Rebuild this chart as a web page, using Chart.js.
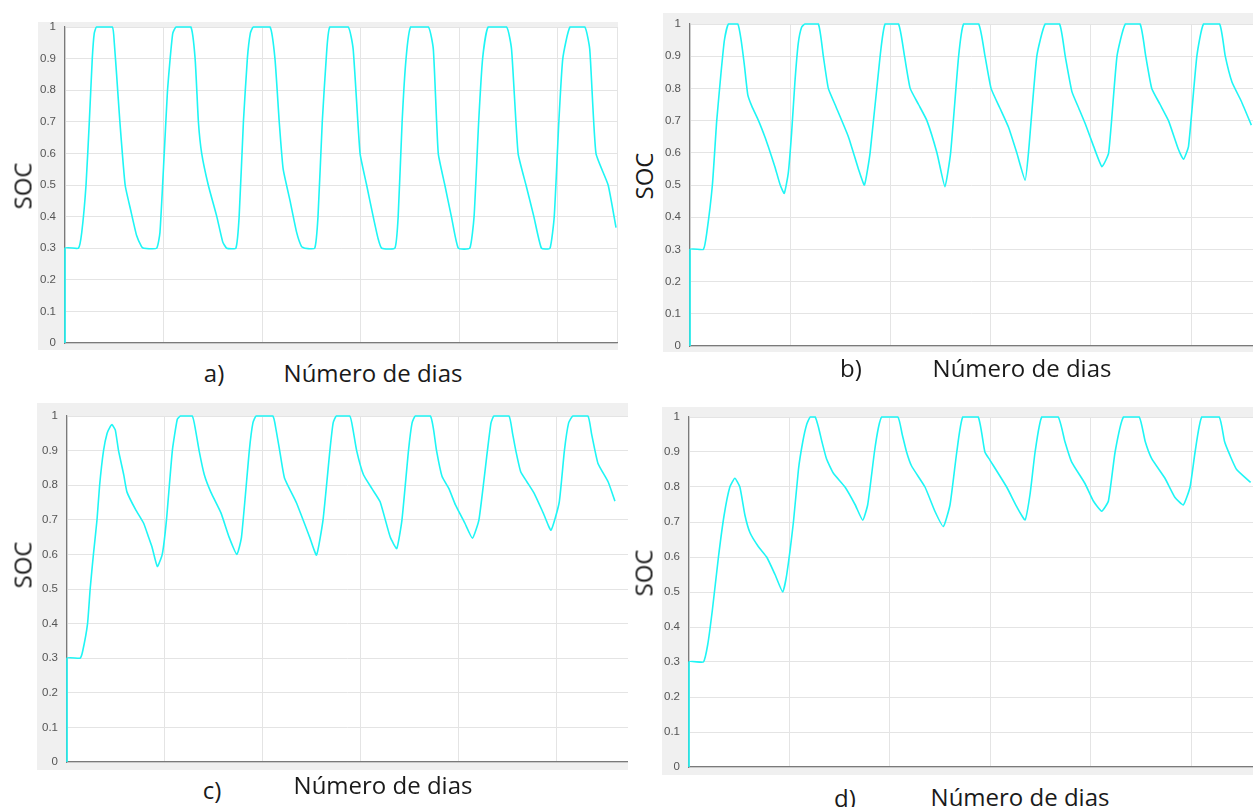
<!DOCTYPE html>
<html>
<head>
<meta charset="utf-8">
<script src="https://cdn.jsdelivr.net/npm/chart.js@4/dist/chart.umd.min.js"></script>
<style>
  body { margin: 0; width: 1253px; height: 807px; background: #fff; overflow: hidden; position: relative; }
  .panel { position: absolute; }
  .lbl { position: absolute; font-family: 'Open Sans', sans-serif; font-size: 24px; color: #1a1a1a; transform: translate(-50%, -50%); white-space: nowrap; }
  .soc { transform: translate(-50%, -50%) rotate(-90deg); font-size: 24px; }
</style>
</head>
<body>
<div class="panel" style="left:38px;top:22px;width:580px;height:328px"><canvas id="chartA"></canvas></div>
<div class="panel" style="left:663px;top:13px;width:590px;height:339px"><canvas id="chartB"></canvas></div>
<div class="panel" style="left:37px;top:403px;width:591px;height:367px"><canvas id="chartC"></canvas></div>
<div class="panel" style="left:662px;top:407px;width:591px;height:368px"><canvas id="chartD"></canvas></div>

<div class="lbl soc" style="left:22px;top:186px">SOC</div>
<div class="lbl" style="left:214px;top:372px">a)</div>
<div class="lbl" style="left:373px;top:372px">Número de dias</div>

<div class="lbl soc" style="left:643px;top:176px">SOC</div>
<div class="lbl" style="left:851px;top:367px">b)</div>
<div class="lbl" style="left:1022px;top:367px">Número de dias</div>

<div class="lbl soc" style="left:22px;top:565px">SOC</div>
<div class="lbl" style="left:212px;top:789px">c)</div>
<div class="lbl" style="left:383px;top:784px">Número de dias</div>

<div class="lbl soc" style="left:643px;top:573px">SOC</div>
<div class="lbl" style="left:845px;top:797px">d)</div>
<div class="lbl" style="left:1020px;top:796px">Número de dias</div>

<script>
// horas desde o início, SOC
const horasA = [0, 0, 4.1, 5.1, 6.4, 7.4, 8.3, 8.9, 9.6, 14.4, 15, 15.7, 16.7, 18.3, 20, 21.8, 23.3, 24,
  27.9, 28.9, 30.2, 31.2, 32, 32.8, 33.8, 38.3, 39.6, 40.6, 41.6, 43.6, 46.2, 48, 49.2,
  52, 53, 54.3, 55.5, 56.4, 57.3, 62.4, 63.9, 65.2, 66.4, 68.5, 70.5, 72, 73,
  76, 77, 78.3, 79.5, 80.6, 86.2, 87.7, 89.8, 91.8, 93.8, 95.3, 96.4,
  100.4, 101.4, 102.6, 103.8, 105.2, 110.6, 112.1, 113.6, 115.6, 117.6, 119.7,
  123.2, 124.5, 125.9, 127.1, 128.8, 134.4, 135.9, 137.9, 140.3, 142.7, 145,
  147.6, 148.9, 150.3, 151.5, 153.7, 158.2, 159.7, 161.6, 165.3, 167.7]
const socA = [0, 0.3, 0.3, 0.35, 0.5, 0.7, 0.9, 0.98, 1, 1, 0.95, 0.85, 0.7, 0.5, 0.42, 0.34, 0.305, 0.3,
  0.3, 0.35, 0.6, 0.8, 0.9, 0.98, 1, 1, 0.9, 0.7, 0.6, 0.5, 0.4, 0.32, 0.3,
  0.3, 0.4, 0.7, 0.9, 0.98, 1, 1, 0.9, 0.7, 0.55, 0.45, 0.35, 0.305, 0.3,
  0.3, 0.4, 0.7, 0.9, 1, 1, 0.93, 0.6, 0.5, 0.4, 0.33, 0.3,
  0.3, 0.4, 0.7, 0.9, 1, 1, 0.93, 0.6, 0.5, 0.4, 0.3,
  0.3, 0.4, 0.7, 0.9, 1, 1, 0.93, 0.6, 0.5, 0.4, 0.3,
  0.3, 0.4, 0.7, 0.9, 1, 1, 0.93, 0.6, 0.5, 0.365]

const horasB = [0, 0, 4, 5, 6.7, 8, 9.3, 10.3, 11.5, 14.3, 15.3, 16.3, 17.3, 18.5, 20.5, 22.4, 23.4, 25.4, 27, 28.2,
  29.4, 30.4, 31.4, 32.4, 33.4, 34.4, 38.4, 39.9, 41.4, 43.4, 47.4, 50.4, 52.2,
  53.9, 56.9, 58.4, 62.4, 64.2, 65.9, 68.4, 70.9, 73.9, 76.3,
  78, 80.4, 81.9, 86.4, 88.3, 90.1, 92.7, 95.3, 97.8, 100.3,
  101.3, 103.8, 106.3, 110.6, 112.3, 114.3, 116.3, 118.3, 120.8, 123.3,
  125.3, 127.8, 130.3, 134.7, 136.4, 138.2, 140.7, 143.2, 146.2, 147.7,
  149.2, 151.7, 153.7, 158.5, 160.2, 162.2, 165, 168]
const socB = [0, 0.3, 0.3, 0.35, 0.5, 0.7, 0.85, 0.95, 1, 1, 0.95, 0.87, 0.78, 0.745, 0.7, 0.65, 0.62, 0.557, 0.5, 0.474,
  0.536, 0.66, 0.82, 0.94, 0.99, 1, 1, 0.9, 0.8, 0.75, 0.65, 0.55, 0.5,
  0.6, 0.9, 1, 1, 0.9, 0.8, 0.75, 0.7, 0.6, 0.495,
  0.6, 0.9, 1, 1, 0.9, 0.8, 0.74, 0.68, 0.6, 0.515,
  0.6, 0.9, 1, 1, 0.9, 0.79, 0.74, 0.69, 0.62, 0.557,
  0.6, 0.9, 1, 1, 0.9, 0.8, 0.75, 0.7, 0.61, 0.58,
  0.62, 0.9, 1, 1, 0.9, 0.82, 0.76, 0.686]

const horasC = [0, 0, 4, 4.8, 6.3, 7.1, 8.1, 9.2, 10, 11.2, 12.3, 13.3, 13.8, 14.8, 15.8, 17.4, 18.4, 21, 23.5, 25, 26.1, 27.7,
  29.2, 30.5, 32.3, 33.8, 34.8, 38.4, 39.4, 40.5, 42.1, 44.1, 47.2, 49.7, 52.1,
  53.5, 55.9, 57, 58, 63.1, 64.1, 65.2, 66.7, 70.3, 74.4, 76.5,
  78.5, 80.6, 81.6, 82.6, 86.7, 87.7, 88.8, 90.9, 93.5, 96, 99.1, 101.1,
  102.7, 104.7, 105.8, 106.8, 111.4, 112.4, 113.3, 115, 117.1, 119.1, 122, 124.3,
  126.3, 128.9, 130, 130.9, 135.5, 136.6, 137.6, 139.1, 141, 143.2, 146, 148.4,
  150.9, 152.5, 153.8, 155.1, 159.7, 160.8, 162.8, 165.9, 168]
const socC = [0, 0.3, 0.3, 0.32, 0.4, 0.5, 0.6, 0.7, 0.8, 0.9, 0.95, 0.97, 0.975, 0.96, 0.9, 0.83, 0.78, 0.73, 0.69, 0.65, 0.62, 0.565,
  0.6, 0.7, 0.9, 0.99, 1, 1, 0.96, 0.9, 0.83, 0.78, 0.72, 0.65, 0.6,
  0.65, 0.9, 0.98, 1, 1, 0.96, 0.9, 0.82, 0.75, 0.65, 0.598,
  0.7, 0.9, 0.98, 1, 1, 0.96, 0.9, 0.83, 0.79, 0.752, 0.65, 0.617,
  0.7, 0.9, 0.98, 1, 1, 0.96, 0.9, 0.825, 0.79, 0.743, 0.69, 0.647,
  0.7, 0.9, 0.98, 1, 1, 0.95, 0.9, 0.839, 0.81, 0.777, 0.72, 0.67,
  0.75, 0.9, 0.98, 1, 1, 0.95, 0.863, 0.81, 0.754]

const horasD = [0, 0, 4.3, 5.6, 7, 8.8, 10.5, 12.2, 13.7, 15.2, 16.7, 18.2, 20.7, 23.2, 25.7, 28,
  29.2, 31.2, 32.7, 34, 35.2, 36.2, 37.7, 38.7, 39.7, 41.1, 43.1, 46.6, 49.6, 51.9,
  53.4, 55.4, 56.6, 57.6, 62.4, 63.7, 65, 66.5, 70.5, 73.5, 76,
  78, 80, 81.8, 86.4, 88.4, 89.9, 94.9, 97.9, 100.4,
  101.9, 103.4, 105.4, 110.3, 112.3, 114.3, 118.3, 120.8, 123.3,
  125.3, 127.3, 129.8, 134.5, 136.3, 138.2, 142.2, 145.2, 147.7,
  149.7, 151.2, 153.2, 158.4, 160, 161.6, 163.6, 167.8]
const socD = [0, 0.3, 0.3, 0.35, 0.45, 0.6, 0.72, 0.8, 0.825, 0.8, 0.72, 0.67, 0.63, 0.6, 0.55, 0.5,
  0.55, 0.7, 0.85, 0.93, 0.98, 1, 1, 0.97, 0.93, 0.88, 0.84, 0.8, 0.75, 0.705,
  0.75, 0.9, 0.97, 1, 1, 0.95, 0.9, 0.86, 0.8, 0.73, 0.687,
  0.75, 0.9, 1, 1, 0.9, 0.877, 0.8, 0.744, 0.706,
  0.78, 0.9, 1, 1, 0.93, 0.872, 0.81, 0.76, 0.731,
  0.76, 0.9, 1, 1, 0.93, 0.882, 0.825, 0.77, 0.749,
  0.8, 0.9, 1, 1, 0.93, 0.891, 0.85, 0.813]

const ticksSoc = [0, 0.1, 0.2, 0.3, 0.4, 0.5, 0.6, 0.7, 0.8, 0.9, 1]

const fundoPlot = {
  id: 'fundoPlot',
  beforeDraw(chart) {
    const { ctx, chartArea: a } = chart
    ctx.save()
    ctx.fillStyle = '#f0f0f0'
    ctx.fillRect(0, 0, chart.width, chart.height)
    ctx.fillStyle = '#ffffff'
    ctx.fillRect(a.left, a.top, a.right - a.left, a.bottom - a.top)
    ctx.restore()
  },
}

function criarGrafico(id, horas, soc, cfg) {
  const pontos = horas.map((h, i) => ({ x: h, y: soc[i] }))
  return new Chart(document.getElementById(id), {
    type: 'line',
    data: {
      datasets: [
        {
          data: pontos,
          borderColor: '#1ff5f5',
          borderWidth: 1.6,
          pointRadius: 0,
          tension: 0.15,
          fill: false,
          clip: { left: 3, top: 2, right: 0, bottom: 3 },
        },
      ],
    },
    options: {
      responsive: true,
      maintainAspectRatio: false,
      animation: false,
      layout: { padding: { top: cfg.topo, right: cfg.direita, left: 0, bottom: 0 } },
      plugins: { legend: { display: false }, tooltip: { enabled: false } },
      scales: {
        x: {
          type: 'linear',
          min: 0,
          max: cfg.xMax,
          ticks: { display: false, stepSize: 30 },
          grid: { color: '#e4e4e4', drawTicks: false },
          border: { display: true, color: '#7a7a7a', width: 1.2 },
          afterFit: (s) => { s.height = cfg.baixo; s.paddingLeft = 0; s.paddingRight = 0 },
        },
        y: {
          min: 0,
          max: 1,
          afterBuildTicks: (s) => { s.ticks = ticksSoc.map((v) => ({ value: v })) },
          ticks: {
            padding: 9,
            color: '#555',
            font: { family: 'Liberation Sans', size: 11.5 },
            callback: (v) => String(+v.toFixed(1)),
          },
          grid: { color: '#e4e4e4', drawTicks: false },
          border: { display: true, color: '#7a7a7a', width: 1.2 },
          afterFit: (s) => { s.width = cfg.esquerda; s.paddingTop = 0; s.paddingBottom = 0 },
        },
      },
    },
    plugins: [fundoPlot],
  })
}

criarGrafico('chartA', horasA, socA, { xMax: 168, topo: 5, direita: 1, baixo: 7, esquerda: 27 })
criarGrafico('chartB', horasB, socB, { xMax: 168.5, topo: 11, direita: 0, baixo: 6, esquerda: 27 })
criarGrafico('chartC', horasC, socC, { xMax: 172, topo: 13, direita: 0, baixo: 8, esquerda: 30 })
criarGrafico('chartD', horasD, socD, { xMax: 168.5, topo: 10, direita: 0, baixo: 8, esquerda: 27 })
</script>
</body>
</html>
